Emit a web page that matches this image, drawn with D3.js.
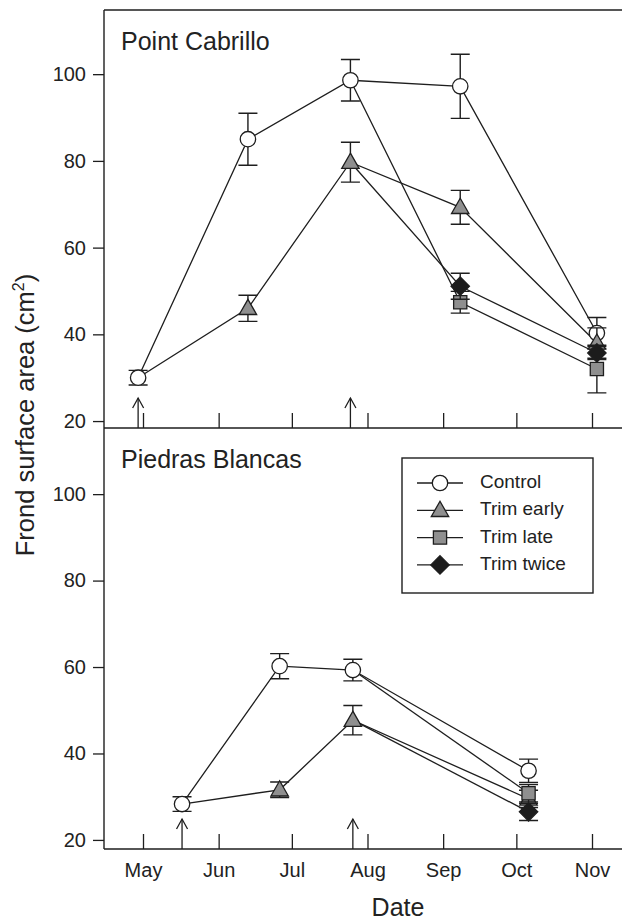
<!DOCTYPE html>
<html>
<head>
<meta charset="utf-8">
<script src="https://cdn.jsdelivr.net/npm/d3@7"></script>
<style>
    body { margin: 0; background: #fff; }
    text { font-family: "Liberation Sans", Arial, sans-serif; fill: #222; }
</style>
</head>
<body>
<div id="chart"></div>
<script>
// month ticks on the date axis
const monthTicks = ["2001-05-01", "2001-06-01", "2001-07-01", "2001-08-01", "2001-09-01", "2001-10-01", "2001-11-01"];
const yTicks = [20, 40, 60, 80, 100];

// Point Cabrillo
const pcDates     = ["2001-04-29", "2001-06-13", "2001-07-25", "2001-09-08", "2001-11-03"];
const pcTrimDates = ["2001-04-29", "2001-07-25"];
const pcControl   = [30.0, 85.0, 98.6, 97.2, 40.3];
const pcControlSe = [1.7, 6.0, 4.8, 7.4, 3.6];
const pcEarly     = [null, 46.0, 79.7, 69.3, 38.0];
const pcEarlySe   = [null, 3.0, 4.6, 3.9, 3.5];
const pcLate      = [null, null, null, 47.4, 32.0];
const pcLateSe    = [null, null, null, 2.5, 5.5];
const pcTwice     = [null, null, null, 51.1, 35.7];
const pcTwiceSe   = [null, null, null, 3.0, 1.5];

// Piedras Blancas
const pbDates     = ["2001-05-17", "2001-06-26", "2001-07-26", "2001-10-06"];
const pbTrimDates = ["2001-05-17", "2001-07-26"];
const pbControl   = [28.3, 60.2, 59.3, 36.0];
const pbControlSe = [1.7, 2.9, 2.5, 2.7];
const pbEarly     = [null, 31.6, 47.7, 29.5];
const pbEarlySe   = [null, 1.8, 3.4, 2.0];
const pbLate      = [null, null, null, 30.8];
const pbLateSe    = [null, null, null, 2.0];
const pbTwice     = [null, null, null, 26.5];
const pbTwiceSe   = [null, null, null, 2.0];

const treatments = ["Control", "Trim early", "Trim late", "Trim twice"];

const width = 622;
const height = 920;
const plotLeft = 104;
const plotRight = 622;
const ink = "#1e1e1e";
const gray = "#8f8f8f";

const svg = d3.select("#chart")
    .append("svg")
    .attr("width", width)
    .attr("height", height);

const parse = d3.timeParse("%Y-%m-%d");

const xScale = d3.scaleTime()
    .domain([parse("2001-05-01"), parse("2001-11-01")])
    .range([143, 592]);

// marker shapes
const shapes = {
    "Control":    { path: d3.symbol(d3.symbolCircle, Math.PI * 7.7 * 7.7)(), fill: "#fff" },
    "Trim early": { path: "M0,-9L8.7,6.2L-8.7,6.2Z", fill: gray },
    "Trim late":  { path: "M-6.6,-6.6H6.6V6.6H-6.6Z", fill: gray },
    "Trim twice": { path: "M0,-9.2L9.2,0L0,9.2L-9.2,0Z", fill: "#1c1c1c" }
};

const drawMarker = (g, name, x, y) => {
    g.append("path")
        .attr("d", shapes[name].path)
        .attr("transform", `translate(${x}, ${y})`)
        .attr("fill", shapes[name].fill)
        .attr("stroke", ink)
        .attr("stroke-width", 1.3);
};

const drawPanel = (p) => {
    const yScale = d3.scaleLinear()
        .domain(p.yDomain)
        .range([p.bottom, p.top]);

    const g = svg.append("g");

    //Y axis
    g.append("g")
        .attr("transform", `translate(${plotLeft}, 0)`)
        .call(d3.axisLeft(yScale).tickValues(yTicks).tickSize(11).tickPadding(7))
        .call(a => a.select(".domain").remove())
        .call(a => a.selectAll("line").attr("stroke", ink).attr("stroke-width", 1.3))
        .call(a => a.selectAll("text").style("font-size", "20px"));

    //X axis, ticks pointing inward
    g.append("g")
        .attr("transform", `translate(0, ${p.bottom})`)
        .call(d3.axisBottom(xScale)
            .tickValues(monthTicks.map(parse))
            .tickSize(-15)
            .tickPadding(14)
            .tickFormat(p.labels ? d3.timeFormat("%b") : ""))
        .call(a => a.select(".domain").remove())
        .call(a => a.selectAll("line").attr("stroke", ink).attr("stroke-width", 1.3))
        .call(a => a.selectAll("text").style("font-size", "20px"));

    // frame
    g.append("line")
        .attr("x1", plotLeft).attr("x2", plotLeft)
        .attr("y1", p.top).attr("y2", p.bottom)
        .attr("stroke", ink).attr("stroke-width", 1.4);
    g.append("line")
        .attr("x1", plotLeft).attr("x2", plotRight)
        .attr("y1", p.bottom).attr("y2", p.bottom)
        .attr("stroke", ink).attr("stroke-width", 1.4);
    if (p.topLine) {
        g.append("line")
            .attr("x1", plotLeft).attr("x2", plotRight)
            .attr("y1", p.top).attr("y2", p.top)
            .attr("stroke", ink).attr("stroke-width", 1.4);
    }

    g.append("text")
        .text(p.name)
        .attr("x", 121)
        .attr("y", p.top + 40)
        .style("font-size", "25px");

    // trimming arrows
    p.trims.forEach(t => {
        const x = xScale(parse(t));
        const tip = p.bottom - 30;
        g.append("line")
            .attr("x1", x).attr("x2", x)
            .attr("y1", tip).attr("y2", p.bottom)
            .attr("stroke", ink).attr("stroke-width", 1.3);
        g.append("path")
            .attr("d", `M${x - 5.5},${tip + 10}L${x},${tip}L${x + 5.5},${tip + 10}`)
            .attr("fill", "none")
            .attr("stroke", ink).attr("stroke-width", 1.3);
    });

    const dates = p.dates.map(parse);

    // series points, each treatment line starts from the point it branches from
    const seriesPoints = p.series.map(s => {
        const own = s.values
            .map((v, i) => ({ date: dates[i], v: v, se: s.se[i] }))
            .filter(d => d.v != null);
        const parent = p.series.find(o => o.name === s.from);
        const start = parent ? [{ date: dates[s.at], v: parent.values[s.at] }] : [];
        return { name: s.name, line: start.concat(own), own: own };
    });

    const lineGenerator = d3.line()
        .x(d => xScale(d.date))
        .y(d => yScale(d.v));

    seriesPoints.forEach(s => {
        g.append("path")
            .attr("d", lineGenerator(s.line))
            .attr("fill", "none")
            .attr("stroke", ink)
            .attr("stroke-width", 1.3);
    });

    seriesPoints.forEach(s => {
        s.own.forEach(d => {
            const x = xScale(d.date);
            const y0 = yScale(d.v - d.se);
            const y1 = yScale(d.v + d.se);
            g.append("path")
                .attr("d", `M${x},${y0}V${y1}M${x - 9.5},${y0}H${x + 9.5}M${x - 9.5},${y1}H${x + 9.5}`)
                .attr("fill", "none")
                .attr("stroke", ink)
                .attr("stroke-width", 1.4);
        });
        s.own.forEach(d => drawMarker(g, s.name, xScale(d.date), yScale(d.v)));
    });
};

drawPanel({
    name: "Point Cabrillo",
    top: 10, bottom: 428,
    yDomain: [18.4, 114.8],
    topLine: true,
    labels: false,
    dates: pcDates,
    trims: pcTrimDates,
    series: [
        { name: "Control",    values: pcControl, se: pcControlSe },
        { name: "Trim early", values: pcEarly,   se: pcEarlySe, from: "Control", at: 0 },
        { name: "Trim late",  values: pcLate,    se: pcLateSe,  from: "Control", at: 2 },
        { name: "Trim twice", values: pcTwice,   se: pcTwiceSe, from: "Trim early", at: 2 }
    ]
});

drawPanel({
    name: "Piedras Blancas",
    top: 428, bottom: 849,
    yDomain: [17.9, 115.3],
    topLine: false,
    labels: true,
    dates: pbDates,
    trims: pbTrimDates,
    series: [
        { name: "Control",    values: pbControl, se: pbControlSe },
        { name: "Trim early", values: pbEarly,   se: pbEarlySe, from: "Control", at: 0 },
        { name: "Trim late",  values: pbLate,    se: pbLateSe,  from: "Control", at: 2 },
        { name: "Trim twice", values: pbTwice,   se: pbTwiceSe, from: "Trim early", at: 2 }
    ]
});

// axis titles
svg.append("text")
    .text("Date")
    .attr("x", 398)
    .attr("y", 916)
    .attr("text-anchor", "middle")
    .style("font-size", "25px");

const yTitle = svg.append("text")
    .attr("transform", "translate(34, 415) rotate(-90)")
    .attr("text-anchor", "middle")
    .style("font-size", "25.5px");
yTitle.append("tspan").text("Frond surface area (cm");
yTitle.append("tspan").text("2").attr("dy", -10).style("font-size", "16px");
yTitle.append("tspan").text(")").attr("dy", 10);

// legend
const legend = svg.append("g");
legend.append("rect")
    .attr("x", 402).attr("y", 458)
    .attr("width", 191).attr("height", 135)
    .attr("fill", "#fff")
    .attr("stroke", ink)
    .attr("stroke-width", 1.4);

treatments.forEach((name, i) => {
    const y = 483 + i * 27.3;
    legend.append("line")
        .attr("x1", 417).attr("x2", 463)
        .attr("y1", y).attr("y2", y)
        .attr("stroke", ink).attr("stroke-width", 1.3);
    drawMarker(legend, name, 440, y);
    legend.append("text")
        .text(name)
        .attr("x", 480)
        .attr("y", y)
        .attr("dominant-baseline", "middle")
        .style("font-size", "19px");
});
</script>
</body>
</html>
